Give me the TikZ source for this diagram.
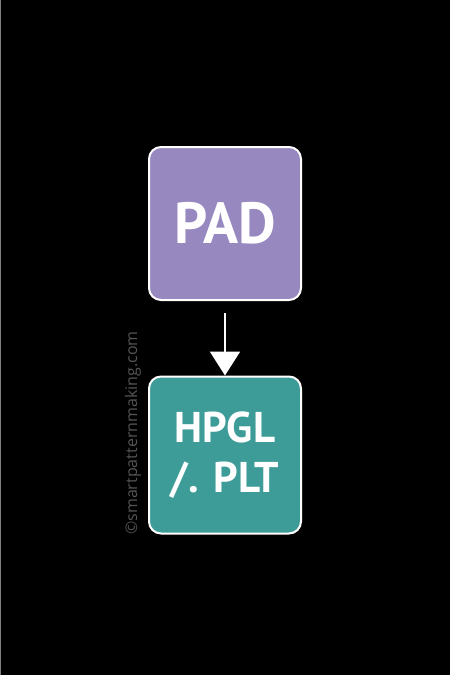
\documentclass[tikz,border=0pt]{standalone}
\usepackage{fontspec}
\setmainfont{PT Sans}
\newfontfamily\markfont{Open Sans}
\usetikzlibrary{arrows.meta}
\definecolor{padpurple}{RGB}{151,136,192}
\definecolor{pltteal}{RGB}{61,156,152}
\definecolor{markgray}{RGB}{85,85,85}
\tikzset{
  filebox/.style={draw=white, line width=2pt, rounded corners=12pt,
    minimum width=152pt, text=white, align=center},
}
\begin{document}
\begin{tikzpicture}[x=1pt, y=-1pt]
    \fill[black] (0, 0) rectangle (450, 675);
    \useasboundingbox (0, 0) rectangle (450, 675);
    \draw[gray, line width=1pt] (0.5, 0) -- (0.5, 675);

    \node[filebox, fill=padpurple, minimum height=153pt,
      font=\bfseries\fontsize{58}{64}\selectfont] (pad) at (225, 223.5) {PAD};
    \node[filebox, fill=pltteal, minimum height=157pt,
      font=\bfseries\fontsize{43}{50}\selectfont] (plt) at (225, 455) {HPGL\\/. PLT};
    \draw[white, line width=2pt, -{Triangle[width=30pt, length=24pt]}]
      ([yshift=-12pt]pad.south) -- (plt.north);

    \node[rotate=90, text=markgray, font=\markfont\fontsize{16}{18}\selectfont] (mark)
      at (133, 433) {\textcopyright smartpatternmaking.com};
  \end{tikzpicture}
\end{document}
